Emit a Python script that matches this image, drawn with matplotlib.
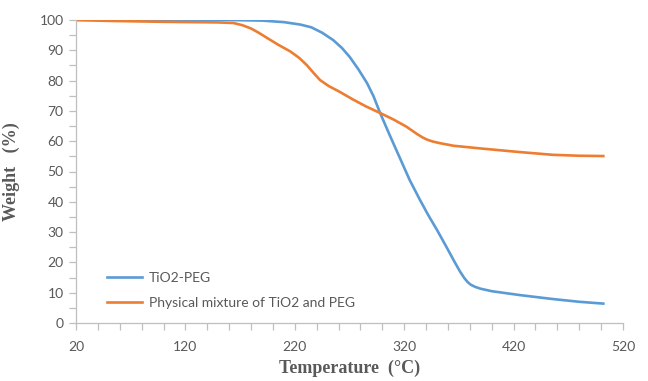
import matplotlib
matplotlib.use("Agg")
import matplotlib.pyplot as plt
from matplotlib.ticker import MultipleLocator

# TiO2-PEG
t_blue = [22, 100, 160, 190, 210, 225, 235, 245, 255, 263, 270, 278, 286, 292,
          298, 307, 316, 325, 334, 342, 350, 358, 366, 371, 375, 378, 381, 385,
          390, 400, 426, 456, 480, 502]
w_blue = [100, 100, 100, 99.8, 99.3, 98.5, 97.6, 95.8, 93.4, 90.8, 87.9, 83.8,
          79.2, 74.8, 69.3, 61.8, 54.5, 47.2, 40.9, 35.6, 30.7, 25.5, 20.2, 17.0,
          14.8, 13.5, 12.6, 11.9, 11.3, 10.5, 9.2, 7.9, 7.0, 6.4]

# physical mixture
t_orange = [22, 50, 100, 150, 164, 172, 180, 187, 195, 205, 216, 224, 231, 237,
            243, 251, 261, 273, 285, 298, 310, 322, 332, 337, 341, 346, 352, 365,
            390, 426, 456, 480, 502]
w_orange = [100, 99.7, 99.4, 99.2, 99.0, 98.3, 97.2, 95.8, 94.0, 91.8, 89.6, 87.5,
            85.1, 82.6, 80.2, 78.2, 76.3, 73.8, 71.5, 69.3, 67.2, 64.8, 62.3, 61.2,
            60.5, 59.9, 59.4, 58.5, 57.6, 56.4, 55.5, 55.2, 55.1]

labels = ["TiO2-PEG", "Physical mixture of TiO2 and PEG"]
gray = "#595959"

fig = plt.figure(figsize=(6.48, 3.81), dpi=100)
ax = fig.add_axes([76 / 648, 58 / 381, 547 / 648, 303 / 381])

ax.plot(t_blue, w_blue, color="#5B9BD5", lw=1.9, label=labels[0])
ax.plot(t_orange, w_orange, color="#ED7D31", lw=1.9, label=labels[1])

ax.set_xlim(20, 520)
ax.set_ylim(0, 100)
ax.set_xticks([20, 120, 220, 320, 420, 520])
ax.xaxis.set_minor_locator(MultipleLocator(20))
ax.yaxis.set_major_locator(MultipleLocator(10))
ax.yaxis.set_minor_locator(MultipleLocator(5))

for s in ["top", "right"]:
    ax.spines[s].set_visible(False)
for s in ["left", "bottom"]:
    ax.spines[s].set_color("#BFBFBF")
    ax.spines[s].set_linewidth(0.9)

ax.tick_params(which="both", direction="out", length=5, width=0.9, color="#BFBFBF")
ax.tick_params(axis="x", which="major", pad=8)
ax.tick_params(axis="y", which="major", pad=4)
for lab in ax.get_xticklabels() + ax.get_yticklabels():
    lab.set_fontfamily("Lato")
    lab.set_fontsize(10)
    lab.set_color(gray)

ax.set_xlabel("Temperature  (°C)", family="Liberation Serif", fontweight="bold",
              fontsize=13, color=gray, labelpad=5)
ax.set_ylabel("Weight   (%)", family="Liberation Serif", fontweight="bold",
              fontsize=13, color=gray, labelpad=14)

leg = ax.legend(loc="lower left", bbox_to_anchor=(31 / 547, 14 / 303),
                frameon=False, borderpad=0, borderaxespad=0, handlelength=2.5,
                handletextpad=0.5, labelspacing=0.95,
                prop={"family": "Lato", "size": 10})
for txt in leg.get_texts():
    txt.set_color(gray)

fig.savefig("out.png", dpi=100)
